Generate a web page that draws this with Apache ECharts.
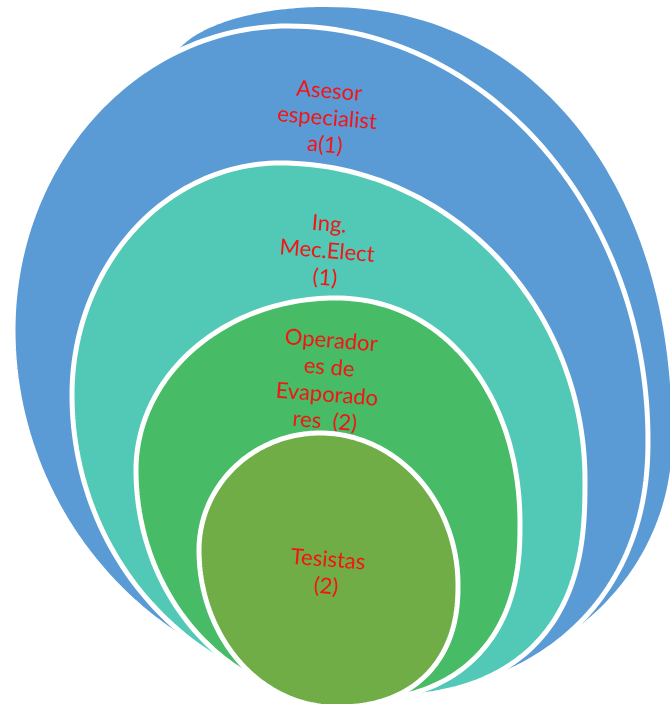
<!DOCTYPE html>
<html><head><meta charset="utf-8">
<script src="https://cdn.jsdelivr.net/npm/echarts@6/dist/echarts.min.js"></script>
<style>html,body{margin:0;padding:0;background:#fff}#c{width:670px;height:704px}</style>
</head><body><div id="c"></div>
<script>
// ---- Data ----
const categories = ['Asesor especialista', 'Ing. Mec.Elect', 'Operadores de Evaporadores', 'Tesistas'];
const counts = [1, 1, 2, 2];
const labelLines = [
  ['Asesor', 'especialist', 'a(1)'],
  ['Ing.', 'Mec.Elect', '(1)'],
  ['Operador', 'es de', 'Evaporado', 'res  (2)'],
  ['Tesistas', '(2)']
];

// ---- Layout: each nested shape is given by its top / right / bottom / left extreme
// points (in a 670 x 704 value space) and a superellipse exponent per quadrant [TR, BR, BL, TL].
const shapes = [
  { T: [288, 26],  R: [648, 440], B: [380, 696], L: [13, 330],  n: [2, 2.2, 2, 2],   lx: 327, ly: 118 },
  { T: [280, 163], R: [585, 480], B: [360, 698], L: [72, 395],  n: [2, 2.6, 2, 2],   lx: 327, ly: 251 },
  { T: [335, 298], R: [520, 525], B: [345, 701], L: [136, 470], n: [2.1, 2.4, 2, 2], lx: 328, ly: 381 },
  { T: [320, 433], R: [458, 585], B: [335, 707], L: [199, 550], n: [2, 2.3, 2, 2],   lx: 327, ly: 573 }
];
const backShape = { T: [325, 7], R: [672, 440], B: [420, 680], L: [170, 70], n: [2.15, 2, 2, 2] };
const colors = ['#5B9BD5', '#52C8B6', '#47BB65', '#70AD47'];
const labelColor = '#F41414';

function outline(s) {
  const pts = [];
  const N = 60;
  const T = s.T, R = s.R, B = s.B, L = s.L;
  for (let q = 0; q < 4; q++) {
    const e = 2 / s.n[q];
    for (let k = 0; k < N; k++) {
      const t = (k / N) * Math.PI / 2;
      const cu = Math.pow(Math.cos(t), e), su = Math.pow(Math.sin(t), e);
      let x, y;
      if (q === 0) { x = T[0] + (R[0] - T[0]) * su; y = R[1] - (R[1] - T[1]) * cu; }
      else if (q === 1) { x = B[0] + (R[0] - B[0]) * cu; y = R[1] + (B[1] - R[1]) * su; }
      else if (q === 2) { x = B[0] - (B[0] - L[0]) * su; y = L[1] + (B[1] - L[1]) * cu; }
      else { x = T[0] - (T[0] - L[0]) * cu; y = L[1] - (L[1] - T[1]) * su; }
      pts.push([x, y]);
    }
  }
  return pts;
}

const chart = echarts.init(document.getElementById('c'));

chart.setOption({
  animation: false,
  grid: { left: 0, right: 0, top: 0, bottom: 0 },
  xAxis: { type: 'value', min: 0, max: 670, show: false },
  yAxis: { type: 'value', min: 0, max: 704, inverse: true, show: false },
  series: [{
    type: 'custom',
    coordinateSystem: 'cartesian2d',
    clip: false,
    data: categories.map((c, i) => [i, counts[i]]),
    renderItem: function (params, api) {
      const i = api.value(0);
      const s = shapes[i];
      const children = [];
      if (i === 0) {
        children.push({
          type: 'polygon',
          shape: { points: outline(backShape).map(p => api.coord(p)) },
          style: { fill: colors[0], stroke: null }
        });
      }
      children.push({
        type: 'polygon',
        shape: { points: outline(s).map(p => api.coord(p)) },
        style: { fill: colors[i], stroke: '#fff', lineWidth: 5 }
      });
      const p = api.coord([s.lx, s.ly]);
      children.push({
        type: 'text', x: p[0], y: p[1], rotation: -0.08,
        style: {
          text: labelLines[i].join('\n'),
          align: 'center', verticalAlign: 'middle',
          fill: labelColor, font: '22px Lato', lineHeight: 27
        }
      });
      return { type: 'group', children: children };
    }
  }]
});
</script></body></html>
